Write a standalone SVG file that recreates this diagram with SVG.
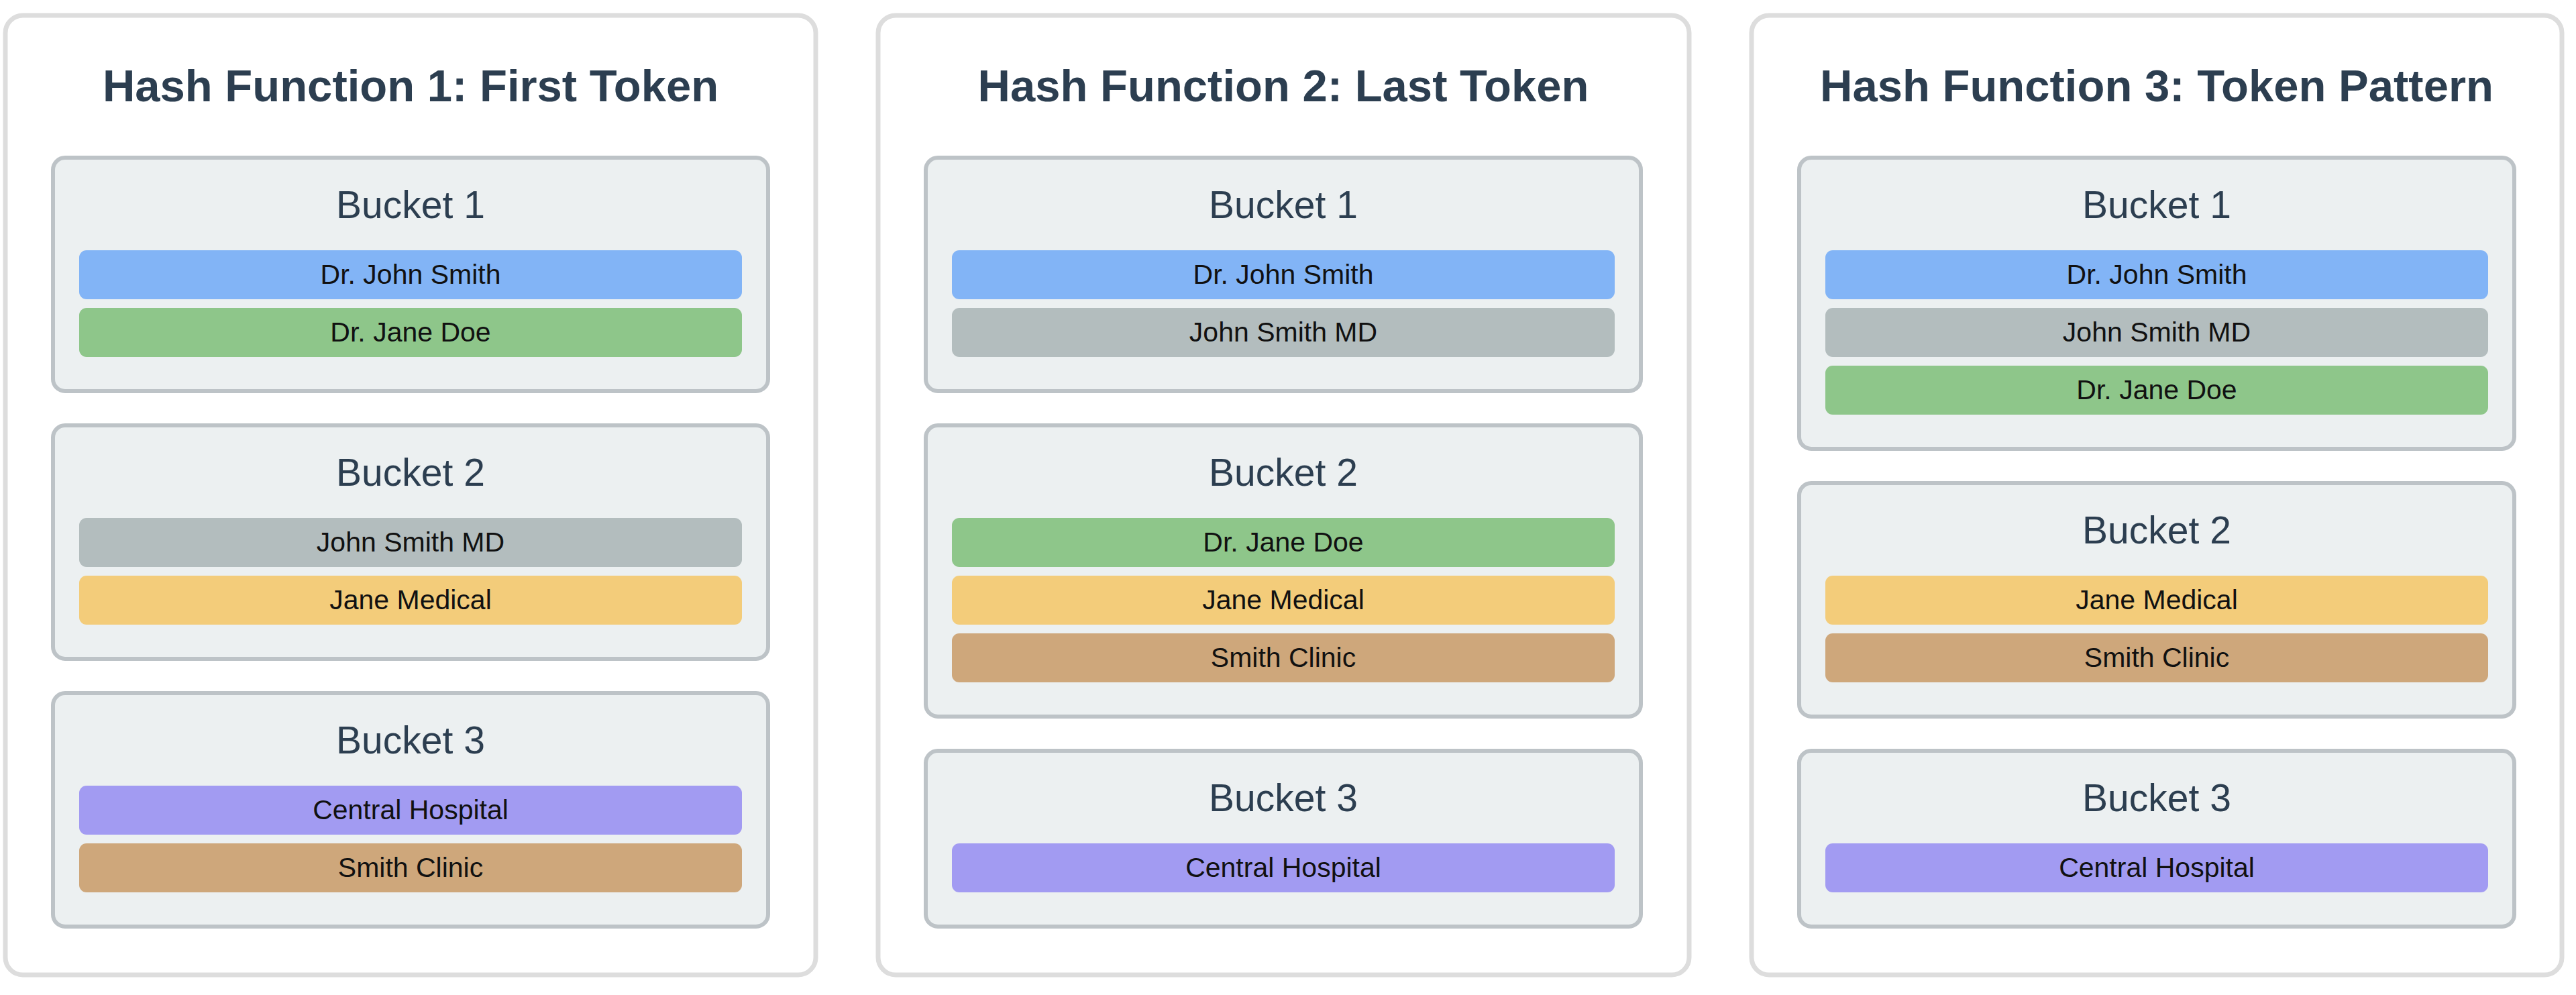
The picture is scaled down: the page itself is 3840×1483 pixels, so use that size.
<svg xmlns="http://www.w3.org/2000/svg" width="3840" height="1483" viewBox="0 0 3840 1483">
<style>
.panel{fill:#ffffff;stroke:#dddddd;stroke-width:7}
.bucket{fill:#ecf0f1;stroke:#bdc3c7;stroke-width:6}
.title{font-family:"Liberation Sans",Arial,sans-serif;font-weight:bold;font-size:67px;fill:#2c3e50;text-anchor:middle}
.blabel{font-family:"Liberation Sans",Arial,sans-serif;font-size:57px;fill:#2c3e50;text-anchor:middle}
.itext{font-family:"Liberation Sans",Arial,sans-serif;font-size:41px;fill:#111111;text-anchor:middle}
.blue{fill:#82b4f6}.green{fill:#8ec68a}.gray{fill:#b3bdbe}.yellow{fill:#f3cc7a}.brown{fill:#cea77b}.purple{fill:#a29bf2}
</style>
<rect width="3840" height="1483" fill="#ffffff"/>
<g id="panel1">
<rect class="panel" x="8" y="23" width="1208" height="1430" rx="26"/>
<text class="title" x="612" y="151">Hash Function 1: First Token</text>
<g id="p1-bucket1">
<rect class="bucket" x="79" y="235" width="1066" height="348" rx="18"/>
<text class="blabel" x="612" y="325">Bucket 1</text>
<rect class="blue" x="118" y="373" width="988" height="73" rx="11"/><text class="itext" x="612" y="423">Dr. John Smith</text>
<rect class="green" x="118" y="459" width="988" height="73" rx="11"/><text class="itext" x="612" y="509">Dr. Jane Doe</text>
</g>
<g id="p1-bucket2">
<rect class="bucket" x="79" y="634" width="1066" height="348" rx="18"/>
<text class="blabel" x="612" y="724">Bucket 2</text>
<rect class="gray" x="118" y="772" width="988" height="73" rx="11"/><text class="itext" x="612" y="822">John Smith MD</text>
<rect class="yellow" x="118" y="858" width="988" height="73" rx="11"/><text class="itext" x="612" y="908">Jane Medical</text>
</g>
<g id="p1-bucket3">
<rect class="bucket" x="79" y="1033" width="1066" height="348" rx="18"/>
<text class="blabel" x="612" y="1123">Bucket 3</text>
<rect class="purple" x="118" y="1171" width="988" height="73" rx="11"/><text class="itext" x="612" y="1221">Central Hospital</text>
<rect class="brown" x="118" y="1257" width="988" height="73" rx="11"/><text class="itext" x="612" y="1307">Smith Clinic</text>
</g>
</g>
<g id="panel2">
<rect class="panel" x="1309" y="23" width="1209" height="1430" rx="26"/>
<text class="title" x="1913" y="151">Hash Function 2: Last Token</text>
<g id="p2-bucket1">
<rect class="bucket" x="1380" y="235" width="1066" height="348" rx="18"/>
<text class="blabel" x="1913" y="325">Bucket 1</text>
<rect class="blue" x="1419" y="373" width="988" height="73" rx="11"/><text class="itext" x="1913" y="423">Dr. John Smith</text>
<rect class="gray" x="1419" y="459" width="988" height="73" rx="11"/><text class="itext" x="1913" y="509">John Smith MD</text>
</g>
<g id="p2-bucket2">
<rect class="bucket" x="1380" y="634" width="1066" height="434" rx="18"/>
<text class="blabel" x="1913" y="724">Bucket 2</text>
<rect class="green" x="1419" y="772" width="988" height="73" rx="11"/><text class="itext" x="1913" y="822">Dr. Jane Doe</text>
<rect class="yellow" x="1419" y="858" width="988" height="73" rx="11"/><text class="itext" x="1913" y="908">Jane Medical</text>
<rect class="brown" x="1419" y="944" width="988" height="73" rx="11"/><text class="itext" x="1913" y="994">Smith Clinic</text>
</g>
<g id="p2-bucket3">
<rect class="bucket" x="1380" y="1119" width="1066" height="262" rx="18"/>
<text class="blabel" x="1913" y="1209">Bucket 3</text>
<rect class="purple" x="1419" y="1257" width="988" height="73" rx="11"/><text class="itext" x="1913" y="1307">Central Hospital</text>
</g>
</g>
<g id="panel3">
<rect class="panel" x="2611" y="23" width="1208" height="1430" rx="26"/>
<text class="title" x="3215" y="151">Hash Function 3: Token Pattern</text>
<g id="p3-bucket1">
<rect class="bucket" x="2682" y="235" width="1066" height="434" rx="18"/>
<text class="blabel" x="3215" y="325">Bucket 1</text>
<rect class="blue" x="2721" y="373" width="988" height="73" rx="11"/><text class="itext" x="3215" y="423">Dr. John Smith</text>
<rect class="gray" x="2721" y="459" width="988" height="73" rx="11"/><text class="itext" x="3215" y="509">John Smith MD</text>
<rect class="green" x="2721" y="545" width="988" height="73" rx="11"/><text class="itext" x="3215" y="595">Dr. Jane Doe</text>
</g>
<g id="p3-bucket2">
<rect class="bucket" x="2682" y="720" width="1066" height="348" rx="18"/>
<text class="blabel" x="3215" y="810">Bucket 2</text>
<rect class="yellow" x="2721" y="858" width="988" height="73" rx="11"/><text class="itext" x="3215" y="908">Jane Medical</text>
<rect class="brown" x="2721" y="944" width="988" height="73" rx="11"/><text class="itext" x="3215" y="994">Smith Clinic</text>
</g>
<g id="p3-bucket3">
<rect class="bucket" x="2682" y="1119" width="1066" height="262" rx="18"/>
<text class="blabel" x="3215" y="1209">Bucket 3</text>
<rect class="purple" x="2721" y="1257" width="988" height="73" rx="11"/><text class="itext" x="3215" y="1307">Central Hospital</text>
</g>
</g>
<g id="connectors"></g>
</svg>
